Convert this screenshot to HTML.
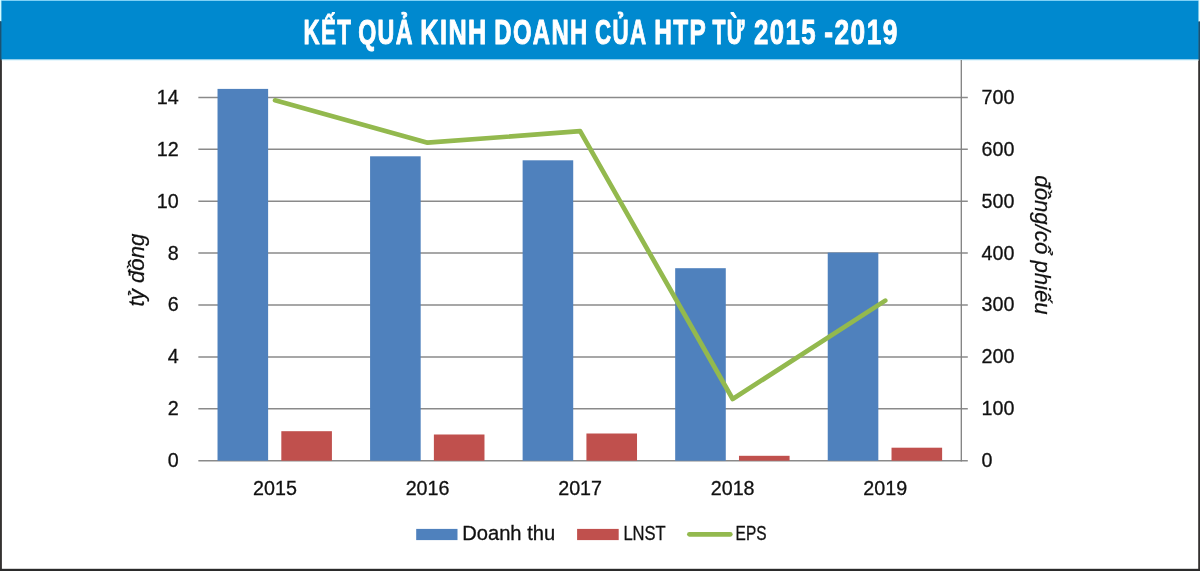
<!DOCTYPE html>
<html lang="vi"><head><meta charset="utf-8"><title>Kết quả kinh doanh của HTP từ 2015 - 2019</title>
<style>
html,body{margin:0;padding:0;background:#fff;}
body{width:1200px;height:571px;overflow:hidden;}
svg{display:block;}
text{font-family:"Liberation Sans",sans-serif;}
.ax{font-size:19.7px;fill:#111;stroke:#111;stroke-width:0.3px;}
.it{font-size:22.2px;font-style:italic;fill:#111;stroke:#111;stroke-width:0.25px;}
.title{font-weight:bold;fill:#fff;}
</style></head><body>
<svg width="1200" height="571" viewBox="0 0 1200 571">
<rect x="0" y="0" width="1200" height="571" fill="#fff"/>

<rect x="0" y="21.3" width="1.9" height="550" fill="#353231"/>
<rect x="1198.2" y="21.5" width="1.8" height="550" fill="#353231"/>
<rect x="0" y="568.8" width="1200" height="2.2" fill="#2b2b2b"/>
<rect x="1.2" y="0" width="1197.5" height="59.6" fill="#0089cf"/>
<rect x="0" y="0" width="1200" height="1" fill="#7fd0f5"/>
<rect x="0" y="0" width="1.2" height="21.3" fill="#d4fbff"/>
<rect x="1198.7" y="0" width="1.3" height="21.5" fill="#e8fdff"/>
<rect x="0" y="21.3" width="1.2" height="38.3" fill="#1a5273"/>
<rect x="1198.7" y="21.5" width="1.3" height="38.1" fill="#1a5273"/>
<rect x="1.8" y="59.6" width="1196.9" height="1" fill="#d8f2fc"/>
<text class="title" y="43.6" font-size="35.2" letter-spacing="2" stroke="#fff" stroke-width="1.0" stroke-linejoin="round"><tspan x="303.58" textLength="48.58" lengthAdjust="spacingAndGlyphs">KẾT</tspan> <tspan x="358.23" textLength="55.57" lengthAdjust="spacingAndGlyphs">QUẢ</tspan> <tspan x="420.32" textLength="67.46" lengthAdjust="spacingAndGlyphs">KINH</tspan> <tspan x="494.30" textLength="94.31" lengthAdjust="spacingAndGlyphs">DOANH</tspan> <tspan x="595.10" textLength="51.36" lengthAdjust="spacingAndGlyphs">CỦA</tspan> <tspan x="654.18" textLength="52.54" lengthAdjust="spacingAndGlyphs">HTP</tspan> <tspan x="712.49" textLength="33.05" lengthAdjust="spacingAndGlyphs">TỪ</tspan> <tspan x="753.96" textLength="63.09" lengthAdjust="spacingAndGlyphs">2015</tspan> <tspan x="824.24" textLength="74.63" lengthAdjust="spacingAndGlyphs">-2019</tspan></text>
<line x1="198.35" y1="460.70" x2="967.80" y2="460.70" stroke="#8a8a8a" stroke-width="1.5"/>
<line x1="198.35" y1="408.80" x2="967.80" y2="408.80" stroke="#8a8a8a" stroke-width="1.5"/>
<line x1="198.35" y1="356.90" x2="967.80" y2="356.90" stroke="#8a8a8a" stroke-width="1.5"/>
<line x1="198.35" y1="305.00" x2="967.80" y2="305.00" stroke="#8a8a8a" stroke-width="1.5"/>
<line x1="198.35" y1="253.10" x2="967.80" y2="253.10" stroke="#8a8a8a" stroke-width="1.5"/>
<line x1="198.35" y1="201.20" x2="967.80" y2="201.20" stroke="#8a8a8a" stroke-width="1.5"/>
<line x1="198.35" y1="149.30" x2="967.80" y2="149.30" stroke="#8a8a8a" stroke-width="1.5"/>
<line x1="198.35" y1="97.40" x2="967.80" y2="97.40" stroke="#8a8a8a" stroke-width="1.5"/>
<line x1="961.30" y1="60" x2="961.30" y2="461.45" stroke="#808080" stroke-width="1.3"/>
<rect x="217.52" y="88.90" width="50.60" height="371.80" fill="#4f81bd"/>
<rect x="281.32" y="431.20" width="50.60" height="29.50" fill="#c0504d"/>
<rect x="370.08" y="156.30" width="50.60" height="304.40" fill="#4f81bd"/>
<rect x="433.88" y="434.50" width="50.60" height="26.20" fill="#c0504d"/>
<rect x="522.62" y="160.30" width="50.60" height="300.40" fill="#4f81bd"/>
<rect x="586.42" y="433.50" width="50.60" height="27.20" fill="#c0504d"/>
<rect x="675.18" y="268.20" width="50.60" height="192.50" fill="#4f81bd"/>
<rect x="738.98" y="455.80" width="50.60" height="4.90" fill="#c0504d"/>
<rect x="827.73" y="252.60" width="50.60" height="208.10" fill="#4f81bd"/>
<rect x="891.52" y="447.70" width="50.60" height="13.00" fill="#c0504d"/>
<polyline points="275.02,100.30 427.58,142.70 580.12,131.20 732.68,399.00 885.23,300.60" fill="none" stroke="#93b94e" stroke-width="4.7" stroke-linejoin="round" stroke-linecap="round"/>
<text class="ax" x="178.6" y="467.10" text-anchor="end">0</text>
<text class="ax" x="981.6" y="467.10">0</text>
<text class="ax" x="178.6" y="415.20" text-anchor="end">2</text>
<text class="ax" x="981.6" y="415.20">100</text>
<text class="ax" x="178.6" y="363.30" text-anchor="end">4</text>
<text class="ax" x="981.6" y="363.30">200</text>
<text class="ax" x="178.6" y="311.40" text-anchor="end">6</text>
<text class="ax" x="981.6" y="311.40">300</text>
<text class="ax" x="178.6" y="259.50" text-anchor="end">8</text>
<text class="ax" x="981.6" y="259.50">400</text>
<text class="ax" x="178.6" y="207.60" text-anchor="end">10</text>
<text class="ax" x="981.6" y="207.60">500</text>
<text class="ax" x="178.6" y="155.70" text-anchor="end">12</text>
<text class="ax" x="981.6" y="155.70">600</text>
<text class="ax" x="178.6" y="103.80" text-anchor="end">14</text>
<text class="ax" x="981.6" y="103.80">700</text>
<text class="ax" x="275.02" y="495.0" text-anchor="middle">2015</text>
<text class="ax" x="427.58" y="495.0" text-anchor="middle">2016</text>
<text class="ax" x="580.12" y="495.0" text-anchor="middle">2017</text>
<text class="ax" x="732.68" y="495.0" text-anchor="middle">2018</text>
<text class="ax" x="885.23" y="495.0" text-anchor="middle">2019</text>
<text class="it" transform="translate(144.3,270) rotate(-90)" text-anchor="middle">tỷ đồng</text>
<text class="it" transform="translate(1034.5,245) rotate(90)" text-anchor="middle">đồng/cổ phiếu</text>
<rect x="416.2" y="528.9" width="41.3" height="11.2" fill="#4f81bd"/>
<text class="ax" x="462.2" y="540.3" textLength="93" lengthAdjust="spacingAndGlyphs">Doanh thu</text>
<rect x="577.1" y="528.9" width="41.6" height="11.2" fill="#c0504d"/>
<text class="ax" x="623.4" y="540.3" textLength="42.3" lengthAdjust="spacingAndGlyphs">LNST</text>
<line x1="689.4" y1="534.3" x2="730.3" y2="534.3" stroke="#93b94e" stroke-width="4.7" stroke-linecap="round"/>
<text class="ax" x="735.6" y="540.3" textLength="30.9" lengthAdjust="spacingAndGlyphs">EPS</text>
</svg></body></html>
